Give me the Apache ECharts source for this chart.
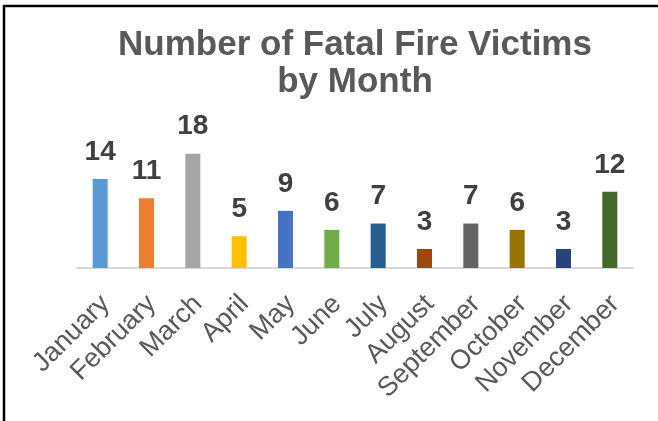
<!DOCTYPE html>
<html>
<head>
<meta charset="utf-8">
<title>Number of Fatal Fire Victims by Month</title>
<script src="https://cdn.jsdelivr.net/npm/echarts@6/dist/echarts.min.js"></script>
<style>
  html, body { margin: 0; padding: 0; background: #fff; }
  #chart { width: 658px; height: 421px; }
</style>
</head>
<body>
<div id="chart"></div>
<script>
// data
const months = ["January", "February", "March", "April", "May", "June",
  "July", "August", "September", "October", "November", "December"];
const victims = [14, 11, 18, 5, 9, 6, 7, 3, 7, 6, 3, 12];
const barColors = ["#5b9bd5", "#ed7d31", "#a5a5a5", "#ffc000", "#4472c4", "#70ad47",
  "#255e91", "#9e480e", "#636363", "#997300", "#264478", "#43682b"];

const chart = echarts.init(document.getElementById("chart"));

const option = {
  animation: false,
  title: {
    text: "Number of Fatal Fire Victims\nby Month",
    left: 350,
    top: 22,
    textAlign: "center",
    textStyle: {
      fontFamily: "Liberation Sans, Arial, sans-serif",
      fontSize: 35,
      fontWeight: "bold",
      color: "#595959",
      lineHeight: 37
    }
  },
  // outer frame, cut off at the right and bottom like the screenshot
  graphic: [
    {
      type: "rect",
      shape: { x: 4, y: 6, width: 800, height: 600 },
      style: { fill: null, stroke: "#000", lineWidth: 2.5 },
      silent: true
    }
  ],
  grid: {
    left: 77,
    right: 25,
    top: 141,
    bottom: 153
  },
  xAxis: {
    type: "category",
    data: months,
    axisLine: { lineStyle: { color: "#d9d9d9", width: 2 } },
    axisTick: { show: false },
    axisLabel: {
      interval: 0,
      rotate: 45,
      margin: 18,
      verticalAlign: "top",
      padding: [0, 6, 0, 0],
      fontFamily: "Liberation Sans, Arial, sans-serif",
      fontSize: 27,
      color: "#595959"
    }
  },
  yAxis: {
    type: "value",
    min: 0,
    max: 20,
    show: false
  },
  series: [
    {
      type: "bar",
      barWidth: 15,
      data: victims.map((v, i) => ({ value: v, itemStyle: { color: barColors[i] } })),
      label: {
        show: true,
        position: "top",
        distance: 13,
        fontFamily: "Liberation Sans, Arial, sans-serif",
        fontSize: 28,
        fontWeight: "bold",
        color: "#404040"
      }
    }
  ]
};

chart.setOption(option);
</script>
</body>
</html>
